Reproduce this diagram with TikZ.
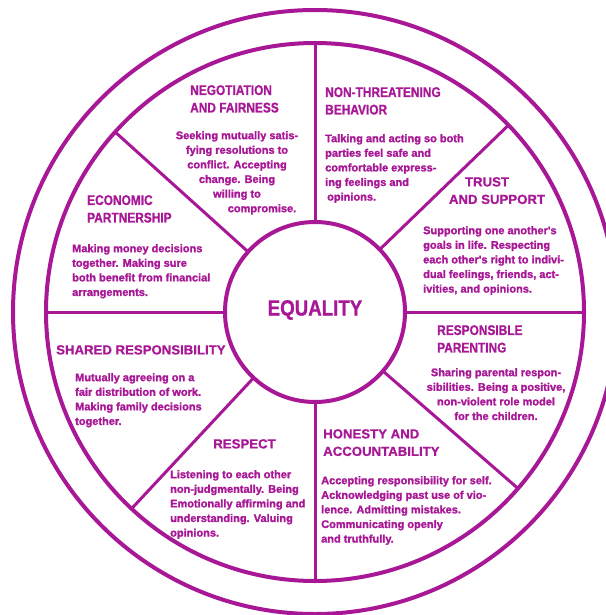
\documentclass[tikz,border=0pt]{standalone}
\usepackage{fontspec}
\newfontfamily\condfont{Liberation Sans Bold}[FakeStretch=0.85, FakeBold=1]
\newfontfamily\widefont{Liberation Sans Bold}[FakeBold=1]
\newfontfamily\heavyfont{Liberation Sans Bold}[FakeBold=1.8]
\definecolor{wheel}{RGB}{168,24,150}

\begin{document}
\begin{tikzpicture}[x=1pt, y=-1pt,
        rim/.style={line width=4, draw=wheel},
        spoke/.style={line width=3, draw=wheel},
        headcond/.style={text=wheel, inner sep=0, align=left, font=\condfont\fontsize{14}{17.5}\selectfont},
        headwide/.style={text=wheel, inner sep=0, align=left, font=\widefont\fontsize{13.2}{17.5}\selectfont},
        bodytext/.style={text=wheel, inner sep=0, align=left, font=\heavyfont\fontsize{11}{14.6}\selectfont}]
        \useasboundingbox (0,0) rectangle (605,615);
        \coordinate (c) at (315,312);

        % wheel
        \draw[rim] (c) circle (302);
        \draw[rim] (c) circle (269);
        \draw[rim] (c) circle (90);

        % spokes
        \foreach \a in {-90,-138,180,133,90,41,0,-44}
            \draw[spoke] (c) ++(\a:90) -- ++(\a:179);

        % hub
        \node[text=wheel, font=\condfont\fontsize{22}{22}\selectfont] (hub) at (315,310) {EQUALITY};

        % negotiation and fairness
        \node[headcond, anchor=north west] (negHead) at (190,85) {NEGOTIATION\\AND FAIRNESS};
        \node[bodytext, align=center, anchor=north] (negText) at (237,131)
            {Seeking mutually satis-\\fying resolutions to\\conflict.  Accepting\\change.  Being\\willing to\\\hspace*{50pt}compromise.};

        % non-threatening behavior
        \node[headcond, anchor=north west] (nonHead) at (325,87) {NON-THREATENING\\BEHAVIOR};
        \node[bodytext, anchor=north west] (nonText) at (325,134)
            {Talking and acting so both\\parties feel safe and\\comfortable express-\\ing feelings and\\\hspace*{2pt}opinions.};

        % trust and support
        \node[headwide, align=center, anchor=north] (trustHead) at (497,177) {TRUST\hspace*{20pt}\\AND SUPPORT};
        \node[bodytext, anchor=north west] (trustText) at (423,226)
            {Supporting one another's\\goals in life.  Respecting\\each other's right to indivi-\\dual feelings, friends, act-\\ivities, and opinions.};

        % responsible parenting
        \node[headcond, anchor=north west] (parHead) at (437,325) {RESPONSIBLE\\PARENTING};
        \node[bodytext, align=center, anchor=north] (parText) at (496,368)
            {Sharing parental respon-\\sibilities. Being a positive,\\non-violent role model\\for the children.};

        % honesty and accountability
        \node[headwide, anchor=north west] (honHead) at (323,429) {HONESTY AND\\ACCOUNTABILITY};
        \node[bodytext, anchor=north west] (honText) at (321,476)
            {Accepting responsibility for self.\\Acknowledging past use of vio-\\lence. Admitting mistakes.\\Communicating openly\\and truthfully.};

        % respect
        \node[headwide, anchor=north] (resHead) at (244.5,439) {RESPECT};
        \node[bodytext, anchor=north west] (resText) at (170,470)
            {Listening to each other\\non-judgmentally.  Being\\Emotionally affirming and\\understanding.  Valuing\\opinions.};

        % shared responsibility
        \node[headwide, anchor=north west] (shaHead) at (56,345) {SHARED RESPONSIBILITY};
        \node[bodytext, anchor=north west] (shaText) at (75,373)
            {Mutually agreeing on a\\fair distribution of work.\\Making family decisions\\together.};

        % economic partnership
        \node[headcond, anchor=north west] (ecoHead) at (87,195) {ECONOMIC\\PARTNERSHIP};
        \node[bodytext, anchor=north west] (ecoText) at (72,244)
            {Making money decisions\\together.  Making sure\\both benefit from financial\\arrangements.};
    \end{tikzpicture}
\end{document}
